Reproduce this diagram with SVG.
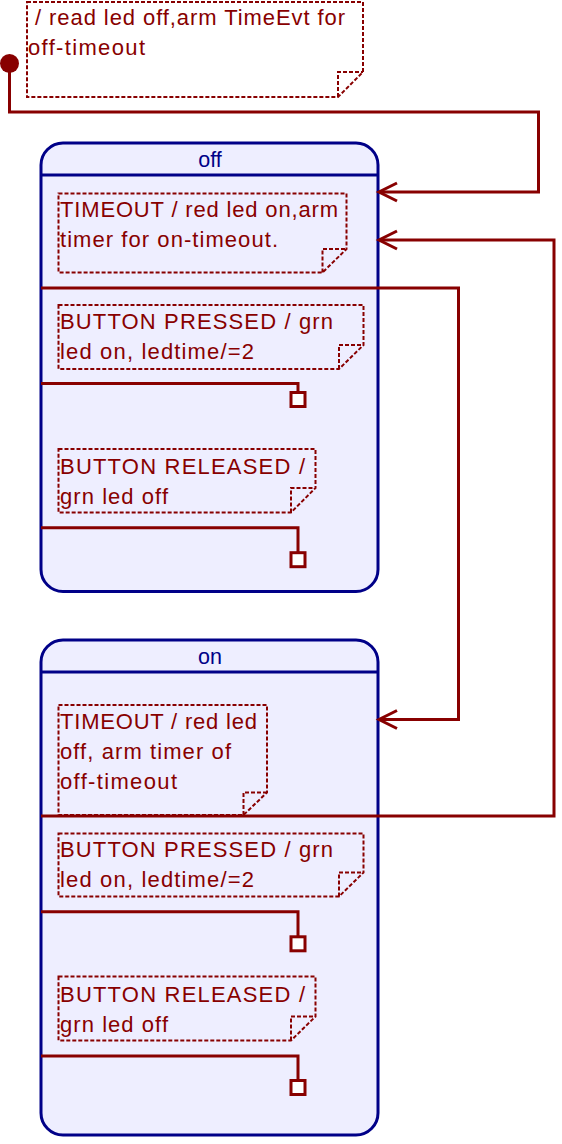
<svg xmlns="http://www.w3.org/2000/svg" width="562" height="1144" viewBox="0 0 562 1144">
<style>
.state{fill:#EEEEFF;stroke:#000088;stroke-width:3}
.hdr{stroke:#000088;stroke-width:3}
.sname{font-family:"Liberation Sans",Arial,sans-serif;font-size:21.5px;fill:#000088;text-anchor:middle}
.note{fill:none;stroke:#880000;stroke-width:2;stroke-dasharray:4,2}
.nt{font-family:"Liberation Sans",Arial,sans-serif;font-size:22px;fill:#880000}
.tr{fill:none;stroke:#880000;stroke-width:3}
.sq{fill:#FFFFFF;stroke:#880000;stroke-width:3}
</style>
<defs>
<marker id="arr" markerUnits="userSpaceOnUse" markerWidth="24" markerHeight="24" refX="19" refY="10" orient="auto" viewBox="0 0 24 20">
<path d="M1 1 L19 10 L1 19" fill="none" stroke="#880000" stroke-width="3"/>
</marker>
</defs>
<rect width="562" height="1144" fill="#FFFFFF"/>

<g id="initial">
<circle cx="9.5" cy="63.5" r="9.5" fill="#880000"/>
</g>

<g id="note-init">
<path class="note" d="M27 2 H363 V72 L338 97 H27 Z M338 97 V72 H363"/>
<text class="nt" x="35" y="25" textLength="310" lengthAdjust="spacing">/ read led off,arm TimeEvt for</text>
<text class="nt" x="28" y="55" textLength="117" lengthAdjust="spacing">off-timeout</text>
</g>

<g id="state-off">
<rect class="state" x="41" y="143" width="337" height="448.5" rx="22"/>
<line class="hdr" x1="41" y1="175" x2="378" y2="175"/>
<text class="sname" x="210" y="167">off</text>
<g id="note-off-timeout">
<path class="note" d="M58.5 193.5 H346.5 V249 L322.5 272.5 H58.5 Z M322.5 272.5 V249 H346.5"/>
<text class="nt" x="60" y="217" textLength="278" lengthAdjust="spacing">TIMEOUT / red led on,arm</text>
<text class="nt" x="60" y="247" textLength="218" lengthAdjust="spacing">timer for on-timeout.</text>
</g>
<g id="note-off-pressed">
<path class="note" d="M58.5 305 H363.5 V345 L339 369 H58.5 Z M339 369 V345 H363.5"/>
<text class="nt" x="60" y="328.5" textLength="273" lengthAdjust="spacing">BUTTON PRESSED / grn</text>
<text class="nt" x="60" y="358.5" textLength="194" lengthAdjust="spacing">led on, ledtime/=2</text>
</g>
<g id="note-off-released">
<path class="note" d="M58.5 449 H315.5 V488 L291 512.5 H58.5 Z M291 512.5 V488 H315.5"/>
<text class="nt" x="60" y="473.5" textLength="245" lengthAdjust="spacing">BUTTON RELEASED /</text>
<text class="nt" x="60" y="503.5" textLength="108" lengthAdjust="spacing">grn led off</text>
</g>
</g>

<g id="state-on">
<rect class="state" x="41" y="640" width="337" height="495" rx="22"/>
<line class="hdr" x1="41" y1="672" x2="378" y2="672"/>
<text class="sname" x="210" y="664">on</text>
<g id="note-on-timeout">
<path class="note" d="M58.5 705 H267 V792.5 L243.5 815 H58.5 Z M243.5 815 V792.5 H267"/>
<text class="nt" x="60" y="728.5" textLength="197" lengthAdjust="spacing">TIMEOUT / red led</text>
<text class="nt" x="60" y="758.5" textLength="171" lengthAdjust="spacing">off, arm timer of</text>
<text class="nt" x="60" y="788.5" textLength="117" lengthAdjust="spacing">off-timeout</text>
</g>
<g id="note-on-pressed">
<path class="note" d="M58.5 833.5 H363.5 V872.5 L339 896.5 H58.5 Z M339 896.5 V872.5 H363.5"/>
<text class="nt" x="60" y="857" textLength="273" lengthAdjust="spacing">BUTTON PRESSED / grn</text>
<text class="nt" x="60" y="887" textLength="194" lengthAdjust="spacing">led on, ledtime/=2</text>
</g>
<g id="note-on-released">
<path class="note" d="M58.5 976.5 H315.5 V1016.5 L291 1040.5 H58.5 Z M291 1040.5 V1016.5 H315.5"/>
<text class="nt" x="60" y="1002" textLength="245" lengthAdjust="spacing">BUTTON RELEASED /</text>
<text class="nt" x="60" y="1032" textLength="108" lengthAdjust="spacing">grn led off</text>
</g>
</g>

<g id="connectors">
<path class="tr" d="M9.5 63 V112 H538.5 V192 H379" marker-end="url(#arr)"/>
<path class="tr" d="M41 288 H458.5 V719.5 H379" marker-end="url(#arr)"/>
<path class="tr" d="M41 816 H554 V240 H379" marker-end="url(#arr)"/>
<path class="tr" d="M41 383.5 H298 V392.5"/>
<rect class="sq" x="291" y="392.5" width="14" height="14"/>
<path class="tr" d="M41 527.7 H298 V552.7"/>
<rect class="sq" x="291" y="552.7" width="14" height="14"/>
<path class="tr" d="M41 911.7 H298 V936.8"/>
<rect class="sq" x="291" y="936.8" width="14" height="14"/>
<path class="tr" d="M41 1056 H298 V1080.5"/>
<rect class="sq" x="291" y="1080.5" width="14" height="14"/>
</g>
</svg>
